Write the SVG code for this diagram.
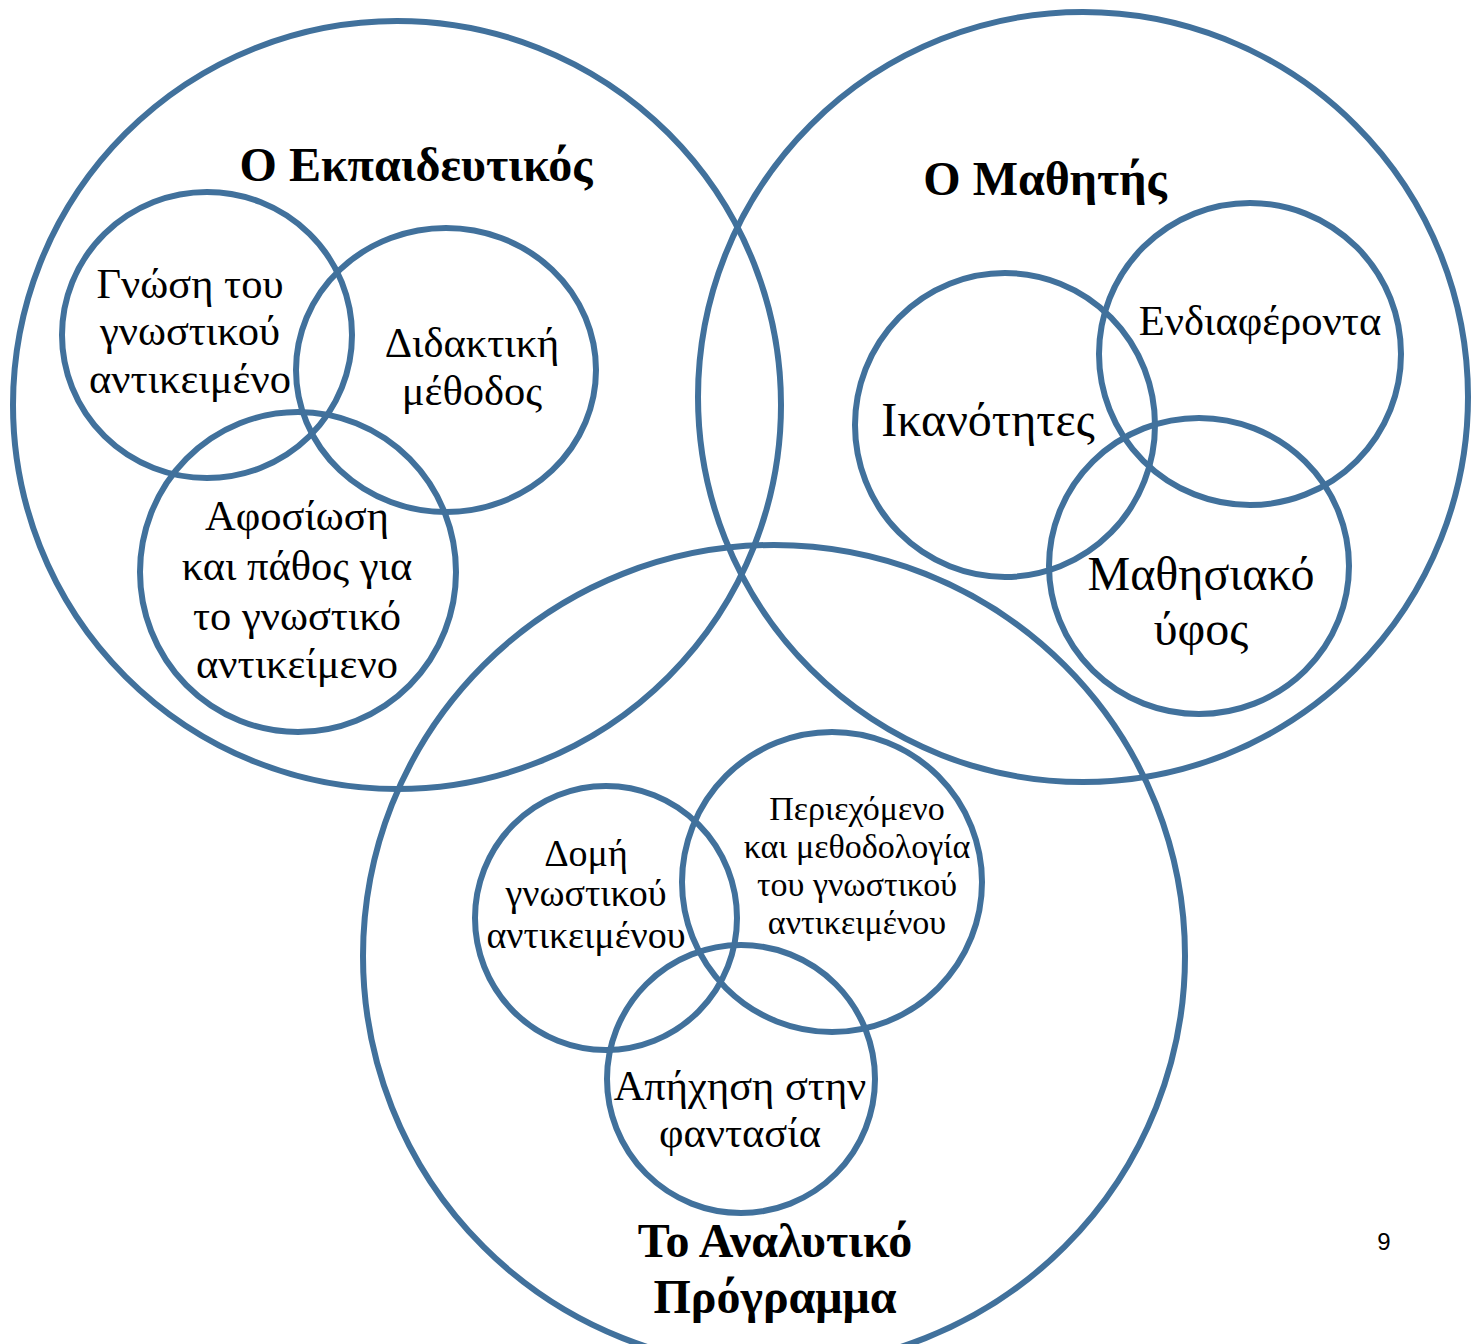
<svg xmlns="http://www.w3.org/2000/svg" width="1480" height="1344" viewBox="0 0 1480 1344">
<style>
.c{fill:none;stroke:#41719c;stroke-width:6}
.t{font-family:"Liberation Serif","Times New Roman",serif;fill:#000;text-anchor:middle}
.b{font-weight:bold;font-size:48px}
.m{font-size:42.5px}
.l{font-size:48px}
.s{font-size:38px}
.x{font-size:34px}
</style>
<rect width="1480" height="1344" fill="#fff"/>
<g id="teacher"><circle class="c" cx="397" cy="405" r="384"/><text class="t b" x="416" y="181">Ο Εκπαιδευτικός</text></g>
<g id="student"><circle class="c" cx="1083" cy="397" r="385"/><text class="t b" x="1045" y="195">Ο Μαθητής</text></g>
<g id="curriculum"><circle class="c" cx="774" cy="956" r="411"/><text class="t b" x="775" y="1257">Το Αναλυτικό</text><text class="t b" x="775" y="1313">Πρόγραμμα</text></g>
<g id="knowledge"><ellipse class="c" cx="207" cy="335" rx="145" ry="143"/><text class="t m"><tspan x="190" y="298">Γνώση του</tspan><tspan x="190" y="345">γνωστικού</tspan><tspan x="190" y="393">αντικειμένο</tspan></text></g>
<g id="method"><ellipse class="c" cx="446" cy="370" rx="150" ry="142"/><text class="t m"><tspan x="472" y="357">Διδακτική</tspan><tspan x="472" y="405">μέθοδος</tspan></text></g>
<g id="devotion"><ellipse class="c" cx="298" cy="572" rx="158" ry="160"/><text class="t m"><tspan x="297" y="530">Αφοσίωση</tspan><tspan x="297" y="580">και πάθος για</tspan><tspan x="297" y="630">το γνωστικό</tspan><tspan x="297" y="678">αντικείμενο</tspan></text></g>
<g id="abilities"><ellipse class="c" cx="1005" cy="425" rx="150" ry="152"/><text class="t l" x="988" y="436">Ικανότητες</text></g>
<g id="interests"><circle class="c" cx="1250" cy="354" r="151"/><text class="t m" x="1260" y="335">Ενδιαφέροντα</text></g>
<g id="style"><ellipse class="c" cx="1199" cy="566" rx="150" ry="148"/><text class="t l"><tspan x="1201" y="590">Μαθησιακό</tspan><tspan x="1201" y="645">ύφος</tspan></text></g>
<g id="structure"><ellipse class="c" cx="606" cy="918" rx="131" ry="132"/><text class="t s"><tspan x="586" y="866">Δομή</tspan><tspan x="586" y="906">γνωστικού</tspan><tspan x="586" y="948">αντικειμένου</tspan></text></g>
<g id="content"><circle class="c" cx="832" cy="882" r="150"/><text class="t x"><tspan x="857" y="820">Περιεχόμενο</tspan><tspan x="857" y="858">και μεθοδολογία</tspan><tspan x="857" y="896">του γνωστικού</tspan><tspan x="857" y="934">αντικειμένου</tspan></text></g>
<g id="imagination"><circle class="c" cx="741" cy="1079" r="134"/><text class="t m"><tspan x="740" y="1100">Απήχηση στην</tspan><tspan x="740" y="1147">φαντασία</tspan></text></g>
<g id="connectors"></g>
<text x="1384" y="1250" font-family="Liberation Sans,Arial,sans-serif" font-size="24" text-anchor="middle">9</text>
</svg>
